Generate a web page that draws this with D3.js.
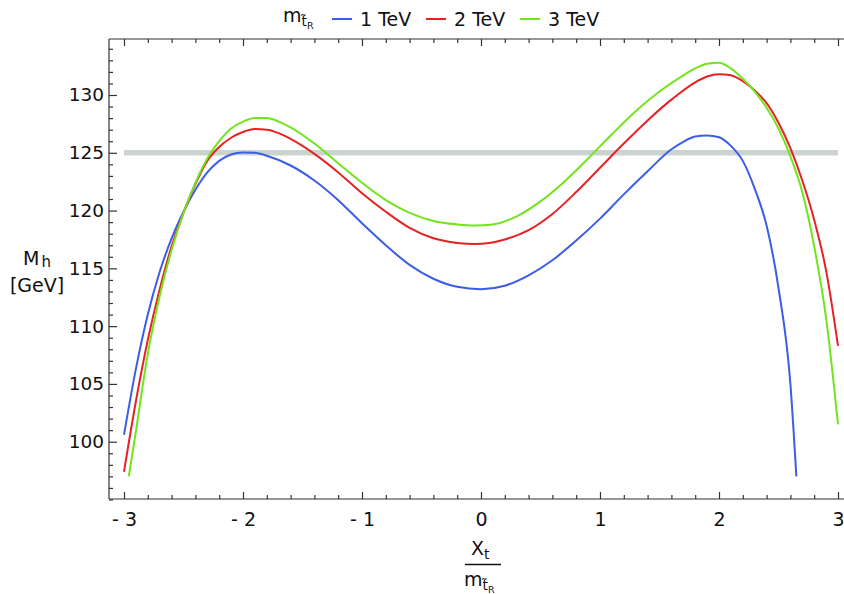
<!DOCTYPE html>
<html><head><meta charset="utf-8">
<script src="https://cdn.jsdelivr.net/npm/d3@7"></script>
<style>body{margin:0;background:#fff}svg{display:block;font-family:"DejaVu Sans",sans-serif}</style>
</head><body><svg id="c" width="844" height="594"></svg>
<script>
// ---- data ----
const seriesNames = ["1 TeV", "2 TeV", "3 TeV"];
const seriesColors = ["#3b5de8", "#e62222", "#72e41c"];

const blueX = [-3.0,-2.9,-2.8,-2.7,-2.6,-2.5,-2.4,-2.3,-2.2,-2.1,-2.0,-1.9,-1.8,-1.6,-1.4,-1.2,-1.0,-0.8,-0.6,-0.4,-0.2,0.0,0.2,0.4,0.6,0.8,1.0,1.2,1.4,1.6,1.7,1.8,1.9,2.0,2.1,2.2,2.3,2.4,2.5,2.6,2.65];
const blueY = [100.6,106.3,111.0,114.7,117.6,119.9,121.8,123.3,124.3,124.85,125.03,125.0,124.75,123.9,122.6,120.9,118.9,117.0,115.3,114.1,113.4,113.2,113.5,114.4,115.7,117.4,119.3,121.4,123.4,125.3,125.95,126.4,126.5,126.35,125.6,124.3,121.9,118.7,113.3,105.0,97.0];

const redX = [-3.0,-2.9,-2.8,-2.7,-2.6,-2.5,-2.4,-2.3,-2.2,-2.1,-2.0,-1.9,-1.8,-1.7,-1.6,-1.4,-1.2,-1.0,-0.8,-0.6,-0.4,-0.2,-0.05,0.2,0.4,0.6,0.8,1.0,1.2,1.4,1.6,1.8,1.9,2.0,2.1,2.2,2.3,2.4,2.5,2.6,2.7,2.8,2.9,3.0];
const redY = [97.4,103.5,108.8,113.2,116.9,119.8,122.3,124.3,125.5,126.3,126.8,127.05,127.0,126.7,126.2,124.9,123.3,121.5,119.9,118.5,117.6,117.2,117.1,117.5,118.3,119.7,121.6,123.7,125.8,127.8,129.6,131.1,131.6,131.8,131.7,131.2,130.4,129.3,127.6,125.4,122.6,119.2,114.8,108.3];

const greenX = [-2.96,-2.9,-2.8,-2.7,-2.6,-2.5,-2.4,-2.3,-2.2,-2.1,-2.0,-1.9,-1.8,-1.7,-1.6,-1.4,-1.2,-1.0,-0.8,-0.6,-0.4,-0.2,-0.05,0.1,0.3,0.5,0.7,0.9,1.1,1.3,1.5,1.7,1.8,1.9,2.0,2.1,2.2,2.3,2.4,2.5,2.6,2.7,2.8,2.9,3.0];
const greenY = [97.0,100.9,107.6,112.6,116.6,119.8,122.4,124.5,126.0,127.1,127.7,128.0,128.0,127.7,127.2,125.8,124.1,122.4,120.9,119.8,119.1,118.8,118.7,118.8,119.5,120.8,122.5,124.5,126.6,128.6,130.3,131.7,132.3,132.7,132.8,132.3,131.4,130.3,128.9,127.1,124.7,121.6,116.9,110.7,101.5];

const refLevel = 125;
const refRange = [-3, 3];
const xMajorTicks = [-3, -2, -1, 0, 1, 2, 3];
const yMajorTicks = [100, 105, 110, 115, 120, 125, 130];

// ---- layout ----
const svg = d3.select("#c");
const L = 109, T = 39, B = 499, R = 846;
const x = d3.scaleLinear().domain([-3, 3]).range([124, 838]);
const y = d3.scaleLinear().domain([100, 130]).range([441.7, 95]);
const frameColor = "#333";

// reference band
svg.append("line")
  .attr("x1", x(refRange[0])).attr("x2", x(refRange[1]))
  .attr("y1", y(refLevel)).attr("y2", y(refLevel))
  .attr("stroke", "#cbd3cf").attr("stroke-width", 5.5);

// curves
const series = [
  {xs: blueX, ys: blueY},
  {xs: redX, ys: redY},
  {xs: greenX, ys: greenY}
];
const line = d3.line().x(d => x(d[0])).y(d => y(d[1])).curve(d3.curveMonotoneX);
series.forEach((s, i) => {
  svg.append("path")
    .datum(s.xs.map((v, j) => [v, s.ys[j]]))
    .attr("fill", "none").attr("stroke", seriesColors[i])
    .attr("stroke-width", 2).attr("stroke-linejoin", "round")
    .attr("d", line);
});

// frame
const frame = svg.append("g").attr("stroke", frameColor).attr("stroke-width", 1.2);
frame.append("line").attr("x1", L).attr("x2", R).attr("y1", B).attr("y2", B);
frame.append("line").attr("x1", L).attr("x2", R).attr("y1", T).attr("y2", T);
frame.append("line").attr("x1", L).attr("x2", L).attr("y1", T).attr("y2", B);

const xMinor = d3.range(-3, 3.01, 0.2).map(v => +v.toFixed(1)).filter(v => !xMajorTicks.includes(v));
const yMinor = d3.range(95, 135, 1).filter(v => !yMajorTicks.includes(v));
const fmtX = d => d < 0 ? "- " + Math.abs(d) : String(d);

function styleAxis(fs) {
  return g => {
    g.select(".domain").remove();
    g.selectAll(".tick line").attr("stroke", frameColor).attr("stroke-width", 1.2);
    g.selectAll(".tick text").attr("fill", "#111").style("font-size", fs + "px").style("font-family", '"DejaVu Sans", sans-serif');
  };
}

// bottom axis
svg.append("g").attr("transform", `translate(0,${B})`)
  .call(d3.axisBottom(x).tickValues(xMajorTicks).tickSize(-7).tickPadding(14).tickFormat(fmtX))
  .call(styleAxis(19));
svg.append("g").attr("transform", `translate(0,${B})`)
  .call(d3.axisBottom(x).tickValues(xMinor).tickSize(-4).tickFormat(""))
  .call(styleAxis(19));
// top axis (ticks only)
svg.append("g").attr("transform", `translate(0,${T})`)
  .call(d3.axisTop(x).tickValues(xMajorTicks).tickSize(-7).tickFormat(""))
  .call(styleAxis(19));
svg.append("g").attr("transform", `translate(0,${T})`)
  .call(d3.axisTop(x).tickValues(xMinor).tickSize(-4).tickFormat(""))
  .call(styleAxis(19));
// left axis
svg.append("g").attr("transform", `translate(${L},0)`)
  .call(d3.axisLeft(y).tickValues(yMajorTicks).tickSize(-8).tickPadding(5))
  .call(styleAxis(18.5));
svg.append("g").attr("transform", `translate(${L},0)`)
  .call(d3.axisLeft(y).tickValues(yMinor).tickSize(-4).tickFormat(""))
  .call(styleAxis(18.5));

// y title
const yt = svg.append("g").attr("fill", "#111").style("font-size", "19px");
const mh = yt.append("text").attr("x", 23).attr("y", 265);
mh.append("tspan").text("M");
mh.append("tspan").attr("dx", 2).attr("dy", 2).style("font-size", "15px").text("h");
yt.append("text").attr("x", 37).attr("y", 292).attr("text-anchor", "middle").text("[GeV]");

// x title (fraction)
const xt = svg.append("g").attr("fill", "#111");
const num = xt.append("text").attr("x", 471).attr("y", 555).style("font-size", "19px");
num.append("tspan").text("X");
num.append("tspan").attr("dy", 4).style("font-size", "14px").text("t");
xt.append("line").attr("x1", 465).attr("x2", 501).attr("y1", 564.5).attr("y2", 564.5)
  .attr("stroke", "#111").attr("stroke-width", 1.3);

// m with subscript t~_R (combining tilde over the t)
function mSub(g, xx, yy, fs) {
  const t = g.append("text").attr("x", xx).attr("y", yy).style("font-size", fs + "px");
  t.append("tspan").text("m");
  t.append("tspan").attr("dy", 4).style("font-size", (fs * 0.72) + "px").text("t\u0303");
  t.append("tspan").attr("dy", 3).style("font-size", (fs * 0.5) + "px").text("R");
  return t;
}
mSub(xt, 464, 586, 19);

// legend
const lg = svg.append("g").attr("fill", "#111");
mSub(lg, 283, 22, 19);
const legX = [332, 426, 520];
seriesNames.forEach((n, i) => {
  lg.append("line").attr("x1", legX[i]).attr("x2", legX[i] + 20).attr("y1", 19).attr("y2", 19)
    .attr("stroke", seriesColors[i]).attr("stroke-width", 2);
  lg.append("text").attr("x", legX[i] + 28).attr("y", 26).style("font-size", "19px").text(n);
});
</script></body></html>
